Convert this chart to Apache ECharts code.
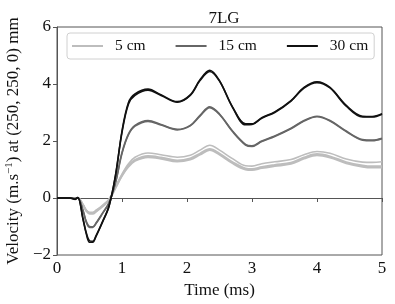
<!DOCTYPE html>
<html><head><meta charset="utf-8">
<script src="https://cdn.jsdelivr.net/npm/echarts@6/dist/echarts.min.js"></script>
<style>html,body{margin:0;padding:0;background:#fff}#c{width:395px;height:304px}</style>
</head><body><div id="c"></div>
<script>
const times = [0, 0.2, 0.28, 0.32, 0.4, 0.45, 0.5, 0.55, 0.6, 0.7, 0.8, 0.9, 1.0, 1.1, 1.2, 1.4, 1.6, 1.85, 2.05, 2.2, 2.35, 2.5, 2.7, 2.9, 3.0, 3.15, 3.35, 3.6, 3.8, 4.0, 4.2, 4.45, 4.7, 4.85, 5.0];
const black1 = [0, 0, -0.05, 0.02, -0.75, -1.25, -1.55, -1.55, -1.35, -0.85, -0.3, 0.8, 2.35, 3.35, 3.65, 3.82, 3.62, 3.38, 3.62, 4.15, 4.48, 4.12, 3.2, 2.6, 2.6, 2.82, 3.02, 3.42, 3.88, 4.08, 3.88, 3.25, 2.87, 2.86, 2.96];
const black2 = [0, 0, -0.04, 0.02, -0.72, -1.22, -1.5, -1.52, -1.33, -0.83, -0.28, 0.78, 2.3, 3.3, 3.6, 3.78, 3.6, 3.36, 3.6, 4.12, 4.44, 4.1, 3.18, 2.57, 2.58, 2.8, 3.0, 3.4, 3.86, 4.05, 3.86, 3.22, 2.84, 2.84, 2.94];
const gray1 = [0, 0, -0.02, 0.01, -0.45, -0.85, -1.03, -1.03, -0.9, -0.55, -0.18, 0.55, 1.6, 2.25, 2.55, 2.72, 2.58, 2.41, 2.55, 2.9, 3.2, 2.95, 2.35, 1.88, 1.83, 2.0, 2.18, 2.45, 2.72, 2.87, 2.72, 2.35, 2.05, 2.03, 2.1];
const gray2 = [0, 0, -0.02, 0.01, -0.43, -0.82, -1.0, -1.01, -0.88, -0.53, -0.17, 0.53, 1.56, 2.22, 2.52, 2.69, 2.56, 2.39, 2.53, 2.87, 3.17, 2.93, 2.33, 1.86, 1.81, 1.98, 2.16, 2.43, 2.7, 2.85, 2.7, 2.33, 2.03, 2.01, 2.08];
const light1 = [0, 0, -0.01, 0.01, -0.25, -0.45, -0.55, -0.55, -0.48, -0.3, -0.08, 0.35, 0.78, 1.1, 1.3, 1.43, 1.38, 1.28, 1.35, 1.52, 1.68, 1.52, 1.22, 1.0, 0.98, 1.05, 1.12, 1.2, 1.38, 1.5, 1.42, 1.22, 1.1, 1.07, 1.07];
const light2 = [0, 0, -0.01, 0.01, -0.24, -0.44, -0.53, -0.53, -0.46, -0.28, -0.06, 0.37, 0.8, 1.14, 1.34, 1.47, 1.42, 1.32, 1.39, 1.56, 1.72, 1.56, 1.26, 1.04, 1.02, 1.09, 1.16, 1.24, 1.42, 1.54, 1.46, 1.26, 1.14, 1.11, 1.11];
const light3 = [0, 0, -0.01, 0.01, -0.23, -0.42, -0.5, -0.5, -0.43, -0.26, -0.04, 0.4, 0.84, 1.2, 1.43, 1.58, 1.52, 1.43, 1.5, 1.68, 1.85, 1.68, 1.38, 1.13, 1.12, 1.2, 1.27, 1.35, 1.52, 1.63, 1.57, 1.37, 1.26, 1.25, 1.27];
const legendNames = ['5 cm', '15 cm', '30 cm'];
const xTicks = [0, 1, 2, 3, 4, 5];
const yTicks = [-2, 0, 2, 4, 6];

const FONT = '"Liberation Serif", "DejaVu Serif", serif';
const colors = {'5 cm': '#bdbdbd', '15 cm': '#666666', '30 cm': '#111111'};
function mk(name, vals, w) {
  return {
    name: name, type: 'line', smooth: 0.35, symbol: 'none',
    data: times.map((t, i) => [t, vals[i]]),
    lineStyle: {color: colors[name], width: w}, itemStyle: {color: colors[name]},
    emphasis: {disabled: true}, animation: false
  };
}
const series = [
  mk('5 cm', light1, 2), mk('5 cm', light2, 2), mk('5 cm', light3, 1.6),
  mk('15 cm', gray1, 1.6), mk('15 cm', gray2, 1.6),
  mk('30 cm', black1, 1.6), mk('30 cm', black2, 1.6)
];
const chart = echarts.init(document.getElementById('c'), null, {renderer: 'canvas'});
chart.setOption({
  animation: false,
  title: {text: '7LG', left: 219, top: 5, textAlign: 'center',
    textStyle: {fontFamily: FONT, fontSize: 17, fontWeight: 'normal', color: '#111'}},
  grid: {left: 57, right: 13, top: 27, bottom: 49, containLabel: false, outerBoundsMode: 'none',
    show: true, borderColor: '#555', borderWidth: 1, backgroundColor: 'transparent'},
  legend: {
    data: legendNames, left: 67, top: 33, orient: 'horizontal',
    icon: 'rect', itemWidth: 31, itemHeight: 2, itemGap: 30,
    padding: [5, 6, 5, 5],
    backgroundColor: '#fff', borderColor: '#d0d0d0', borderWidth: 1, borderRadius: 3,
    textStyle: {fontFamily: FONT, fontSize: 15.5, color: '#111', padding: [0, 0, 0, 7]}
  },
  xAxis: {
    type: 'value', min: 0, max: 5, interval: 1,
    name: 'Time (ms)', nameLocation: 'middle', nameGap: 21,
    nameTextStyle: {fontFamily: FONT, fontSize: 17, color: '#111'},
    axisLine: {lineStyle: {color: '#555'}},
    axisTick: {length: 4, lineStyle: {color: '#555'}},
    axisLabel: {fontFamily: FONT, fontSize: 17, color: '#111', margin: 5,
      formatter: v => xTicks.includes(v) ? String(v) : ''},
    splitLine: {show: false}
  },
  yAxis: {
    type: 'value', min: -2, max: 6, interval: 2,
    name: 'Velocity (m.s{sup|−1}) at (250, 250, 0) mm', nameLocation: 'middle', nameGap: 25,
    nameTextStyle: {fontFamily: FONT, fontSize: 17, color: '#111',
      rich: {sup: {fontFamily: FONT, fontSize: 11, color: '#111', verticalAlign: 'top', padding: [0, 0, 8, 0]}}},
    axisLine: {lineStyle: {color: '#555'}},
    axisTick: {length: 4, lineStyle: {color: '#555'}},
    axisLabel: {fontFamily: FONT, fontSize: 17, color: '#111', margin: 6,
      formatter: v => yTicks.includes(v) ? String(v).replace('-', '−') : ''},
    splitLine: {show: false}
  },
  series: series
});
</script></body></html>
